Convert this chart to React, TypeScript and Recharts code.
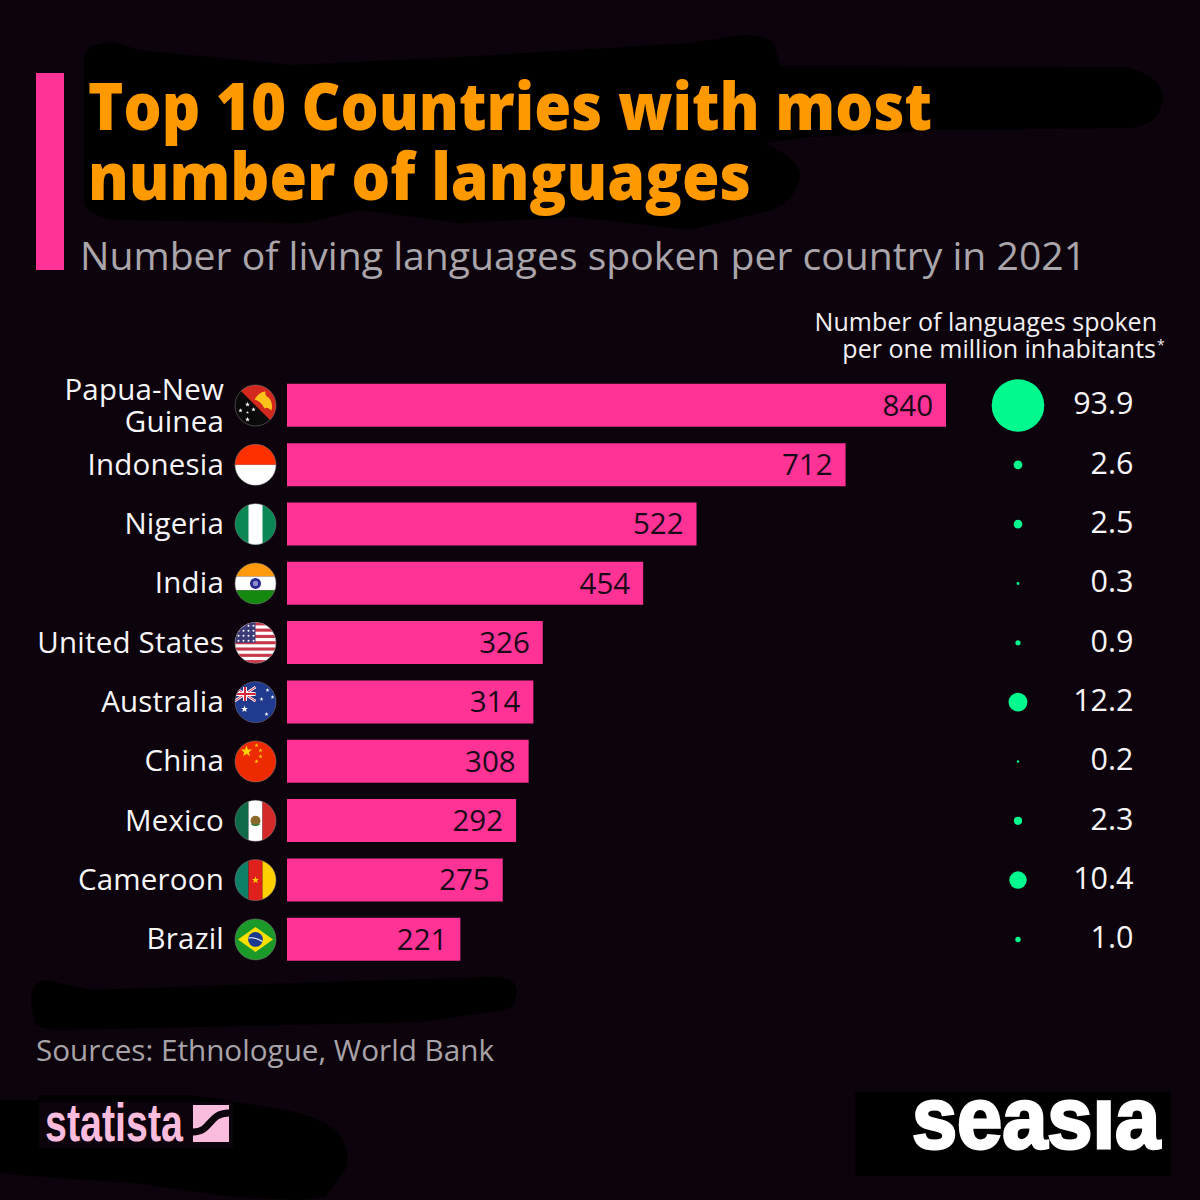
import { Bar, BarChart, LabelList, Scatter, ScatterChart, XAxis, YAxis, ZAxis } from "recharts";

const countries = ["Papua-New Guinea", "Indonesia", "Nigeria", "India", "United States", "Australia", "China", "Mexico", "Cameroon", "Brazil"];
const languages = [840, 712, 522, 454, 326, 314, 308, 292, 275, 221];
const perMillion = [93.9, 2.6, 2.5, 0.3, 0.9, 12.2, 0.2, 2.3, 10.4, 1.0];

const barRows = countries.map((country, i) => ({ country, languages: languages[i] }));
const dotRows = countries.map((country, i) => ({ country, column: 0, perMillion: perMillion[i] }));

const FONT = "'Open Sans', sans-serif";
const BG = "#0d030c";
const PINK = "#ff3396";
const GREEN = "#00fa8e";
const PLOT_TOP = 375.8;
const PLOT_HEIGHT = 593.3;

const STAR = "M0,-1 L0.24,-0.32 0.95,-0.31 0.38,0.12 0.59,0.81 0,0.4 -0.59,0.81 -0.38,0.12 -0.95,-0.31 -0.24,-0.32 Z";

function star(x: number, y: number, r: number, fill: string, key?: number) {
  return <path key={key} d={STAR} fill={fill} transform={`translate(${x},${y}) scale(${r})`} />;
}

const flags: Record<string, () => React.ReactNode> = {
  "Papua-New Guinea": () => (
    <>
      <rect x={-21} y={-21} width={42} height={42} fill="#0a0a0a" />
      <path d="M-21,-21 L21,-21 21,21 Z" fill="#d3281e" />
      <path d="M-1,-6 Q4,-14 10,-14 Q9,-10 13,-8 Q18,-3 16,5 Q12,1 9,3 Q6,-4 -1,-6 Z" fill="#fcc21b" />
      {star(-8, -1, 2.6, "#fff", 1)}
      {star(-2, 4, 2.3, "#fff", 2)}
      {star(-15, 5, 2.3, "#fff", 3)}
      {star(-8, 7, 1.5, "#fff", 4)}
      {star(-8, 14, 2.6, "#fff", 5)}
    </>
  ),
  Indonesia: () => (
    <>
      <rect x={-21} y={-21} width={42} height={21} fill="#ff3000" />
      <rect x={-21} y={0} width={42} height={21} fill="#fff" />
    </>
  ),
  Nigeria: () => (
    <>
      <rect x={-21} y={-21} width={42} height={42} fill="#0a8754" />
      <rect x={-7} y={-21} width={14} height={42} fill="#fff" />
    </>
  ),
  India: () => (
    <>
      <rect x={-21} y={-21} width={42} height={14} fill="#ff9a0e" />
      <rect x={-21} y={-7} width={42} height={14} fill="#fff" />
      <rect x={-21} y={7} width={42} height={14} fill="#15880f" />
      <circle r={5.5} fill="#2a2a8f" />
      <circle r={2.6} fill="#8f8fd0" />
    </>
  ),
  "United States": () => (
    <>
      <rect x={-21} y={-21} width={42} height={42} fill="#fff" />
      {[0, 1, 2, 3, 4, 5, 6].map((i) => (
        <rect key={i} x={-21} y={-20.5 + i * 6.3} width={42} height={3.1} fill="#c8384a" />
      ))}
      <rect x={-21} y={-21} width={21} height={21} fill="#3c3b7a" />
      {[0, 1, 2, 3].map((row) =>
        [0, 1, 2, 3].map((col) => <circle key={`${row}-${col}`} cx={-17 + col * 5} cy={-17 + row * 5} r={1} fill="#fff" />),
      )}
    </>
  ),
  Australia: () => (
    <>
      <rect x={-21} y={-21} width={42} height={42} fill="#1f3a8f" />
      <rect x={-21} y={-15} width={21} height={14} fill="#26347f" />
      <path d="M-21,-15 L0,-1 M0,-15 L-21,-1" stroke="#fff" strokeWidth={2.6} />
      <path d="M-21,-15 L0,-1 M0,-15 L-21,-1" stroke="#d8263c" strokeWidth={1} />
      <path d="M-10.5,-15 V-1 M-21,-8 H0" stroke="#fff" strokeWidth={4} />
      <path d="M-10.5,-15 V-1 M-21,-8 H0" stroke="#d8263c" strokeWidth={2} />
      {star(-11, 7, 3.6, "#fff", 1)}
      {star(11, 12, 2.2, "#fff", 2)}
      {star(6, -3, 2.1, "#fff", 3)}
      {star(12, -12, 2.1, "#fff", 4)}
      {star(17, -5, 2.1, "#fff", 5)}
    </>
  ),
  China: () => (
    <>
      <rect x={-21} y={-21} width={42} height={42} fill="#ee2a00" />
      {star(-9, -10, 6, "#ffd400", 1)}
      {star(1, -16, 2.2, "#ffd400", 2)}
      {star(5, -11, 2.2, "#ffd400", 3)}
      {star(5, -5, 2.2, "#ffd400", 4)}
      {star(1, 0, 2.2, "#ffd400", 5)}
    </>
  ),
  Mexico: () => (
    <>
      <rect x={-21} y={-21} width={14} height={42} fill="#0f6a47" />
      <rect x={-7} y={-21} width={14} height={42} fill="#fff" />
      <rect x={7} y={-21} width={14} height={42} fill="#d42a2a" />
      <circle r={5} fill="#8a6a2a" />
      <path d="M-4,3 Q0,6 4,3" stroke="#2f7a3a" strokeWidth={1.6} fill="none" />
    </>
  ),
  Cameroon: () => (
    <>
      <rect x={-21} y={-21} width={14} height={42} fill="#0f8068" />
      <rect x={-7} y={-21} width={14} height={42} fill="#e0201c" />
      <rect x={7} y={-21} width={14} height={42} fill="#ffd000" />
      {star(0, 0, 3.8, "#ffd000")}
    </>
  ),
  Brazil: () => (
    <>
      <rect x={-21} y={-21} width={42} height={42} fill="#1b9a2a" />
      <path d="M-17.5,0 L0,-12.5 17.5,0 0,12.5 Z" fill="#ffdf00" />
      <circle r={7.4} fill="#1b3a8f" />
      <path d="M-7,-1.5 Q0,-2.5 7,2" stroke="#fff" strokeWidth={1.1} fill="none" />
    </>
  ),
};

function CountryTick({ x, y, payload }: any) {
  const name: string = payload.value;
  const id = `flag-${name.replace(/[^a-zA-Z]/g, "")}`;
  const lines = name === "Papua-New Guinea" ? ["Papua-New", "Guinea"] : [name];
  const textProps = { textAnchor: "end" as const, fontFamily: FONT, fontSize: 29.5, letterSpacing: 0.2, fill: "#f7f5f7" };
  return (
    <g>
      {lines.length === 1 ? (
        <text x={x - 63} y={y + 10} {...textProps}>
          {lines[0]}
        </text>
      ) : (
        <>
          <text x={x - 63} y={y - 5} {...textProps}>
            {lines[0]}
          </text>
          <text x={x - 63} y={y + 27} {...textProps}>
            {lines[1]}
          </text>
        </>
      )}
      <g transform={`translate(${x - 31.5},${y})`}>
        <clipPath id={id}>
          <circle r={20.5} />
        </clipPath>
        <g clipPath={`url(#${id})`}>{flags[name]()}</g>
        <circle r={20.5} fill="none" stroke="#8a8a8a" strokeOpacity={0.6} strokeWidth={0.8} />
      </g>
    </g>
  );
}

function DotValue({ x, y, width, height, value }: any) {
  return (
    <text x={x + width / 2 + 115.5} y={y + height / 2 + 9} textAnchor="end" fontFamily={FONT} fontSize={30.5} fill="#f7f5f7">
      {Number(value).toFixed(1)}
    </text>
  );
}

function Backdrop() {
  return (
    <svg width={1200} height={1200} style={{ position: "absolute", left: 0, top: 0 }}>
      <rect width={1200} height={1200} fill={BG} />
      <path
        d="M84,55 Q90,42 115,42 L138,50 291,65 459,57 689,43 742,35 Q773,35 775,47 L780,66 1125,67 Q1163,75 1163,100 Q1160,125 1130,128 L941,130 811,137 765,143 Q800,160 800,175 Q795,205 765,212 L689,230 574,217 459,223 360,210 306,223 115,220 Q84,215 84,200 Z"
        fill="#000"
      />
      <path
        d="M31,1003 Q30,982 46,980 L92,990 230,985 490,977 Q516,975 517,992 Q515,1008 505,1010 L420,1022 61,1030 Q34,1030 34,1020 Z"
        fill="#000"
      />
      <path
        d="M0,1100 L37,1100 40,1095 191,1095 267,1107 Q325,1115 340,1135 Q352,1155 345,1170 L325,1197 300,1200 233,1197 133,1183 43,1177 0,1173 Z"
        fill="#000"
      />
      <rect x={855} y={1092} width={316} height={84} fill="#000" />
      <rect x={39} y={1102} width={194} height={46} fill={BG} />

      <rect x={36} y={73} width={28} height={197} fill={PINK} />
      <g fontFamily={FONT} fontWeight={800} fontSize={66} fill="#ff9900">
        <text x={88} y={130} textLength={844} lengthAdjust="spacingAndGlyphs">
          Top 10 Countries with most
        </text>
        <text x={88} y={200} textLength={663} lengthAdjust="spacingAndGlyphs">
          number of languages
        </text>
      </g>
      <text x={80} y={270} fontFamily={FONT} fontSize={39} fill="#aaa5aa" textLength={1006} lengthAdjust="spacingAndGlyphs">
        Number of living languages spoken per country in 2021
      </text>

      <g fontFamily={FONT} fontSize={25} fill="#f2f0f2" textAnchor="end">
        <text x={1157} y={331}>Number of languages spoken</text>
        <text x={1156} y={358}>per one million inhabitants</text>
      </g>
      <text x={1157} y={350} fontFamily={FONT} fontSize={14} fill="#f2f0f2">*</text>

      <text x={36} y={1061} fontFamily={FONT} fontSize={29.5} fill="#a8a3a8" textLength={458} lengthAdjust="spacingAndGlyphs">
        Sources: Ethnologue, World Bank
      </text>

      <text
        x={45}
        y={1141}
        fontFamily="'Liberation Sans Narrow', 'Liberation Sans', sans-serif"
        fontWeight={700}
        fontSize={54}
        fill="#f9bcdc"
        textLength={138}
        lengthAdjust="spacingAndGlyphs"
      >
        statista
      </text>
      <rect x={193} y={1105} width={36} height={37} fill="#f9bcdc" />
      <path d="M193,1132 C212,1132 208,1113 229,1113" stroke={BG} strokeWidth={7} fill="none" />

      <text
        x={912}
        y={1148}
        fontFamily="'Liberation Sans', sans-serif"
        fontWeight={700}
        fontSize={88}
        fill="#fff"
        stroke="#fff"
        strokeWidth={3}
        textLength={248}
        lengthAdjust="spacingAndGlyphs"
      >
        seasıa
      </text>
    </svg>
  );
}

export default function App() {
  return (
    <div style={{ position: "absolute", left: 0, top: 0, width: 1200, height: 1200 }}>
      <Backdrop />
      <div style={{ position: "absolute", left: 0, top: 0 }}>
        <BarChart
          width={1200}
          height={1200}
          data={barRows}
          layout="vertical"
          margin={{ top: PLOT_TOP, bottom: 1200 - PLOT_TOP - PLOT_HEIGHT, left: 0, right: 254 }}
        >
          <XAxis type="number" domain={[0, 840]} hide />
          <YAxis
            type="category"
            dataKey="country"
            width={287}
            axisLine={false}
            tickLine={false}
            tickSize={0}
            tickMargin={0}
            interval={0}
            tick={CountryTick}
          />
          <Bar dataKey="languages" fill={PINK} barSize={43} isAnimationActive={false}>
            <LabelList
              dataKey="languages"
              position="insideRight"
              offset={13}
              fontFamily={FONT}
              fontSize={29.5}
              fill="#1a0a18"
            />
          </Bar>
        </BarChart>
      </div>
      <div style={{ position: "absolute", left: 818, top: 0 }}>
        <ScatterChart
          width={400}
          height={1200}
          margin={{ top: PLOT_TOP, bottom: 1200 - PLOT_TOP - PLOT_HEIGHT, left: 0, right: 0 }}
        >
          <XAxis type="number" dataKey="column" domain={[-1, 1]} hide />
          <YAxis type="category" dataKey="country" reversed hide width={0} interval={0} />
          <ZAxis type="number" dataKey="perMillion" domain={[0, 93.9]} range={[0, 2173]} />
          <Scatter data={dotRows} fill={GREEN} isAnimationActive={false}>
            <LabelList dataKey="perMillion" content={DotValue} />
          </Scatter>
        </ScatterChart>
      </div>
    </div>
  );
}
